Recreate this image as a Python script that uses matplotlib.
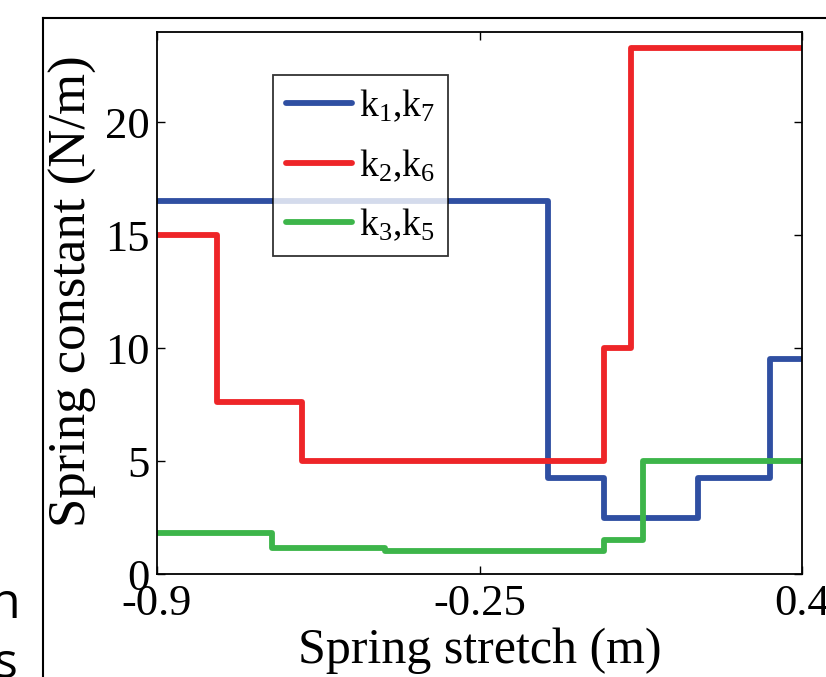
import matplotlib
matplotlib.use("Agg")
import matplotlib.pyplot as plt
from matplotlib.lines import Line2D

plt.rcParams['font.family'] = 'Liberation Serif'
plt.rcParams['mathtext.fontset'] = 'custom'
plt.rcParams['mathtext.rm'] = 'Liberation Serif'
plt.rcParams['mathtext.it'] = 'Liberation Serif'

# step data (x = start of each level, last value held to 0.4)
x_k17 = [-0.9, -0.111, 0.0, 0.19, 0.335, 0.4]
y_k17 = [16.5, 4.25, 2.5, 4.25, 9.5, 9.5]

x_k26 = [-0.9, -0.78, -0.608, 0.0, 0.056, 0.4]
y_k26 = [15.0, 7.6, 5.0, 10.0, 23.3, 23.3]

x_k35 = [-0.9, -0.669, -0.44, 0.0, 0.079, 0.4]
y_k35 = [1.8, 1.15, 1.03, 1.5, 5.0, 5.0]

labels = [r'k$_1$,k$_7$', r'k$_2$,k$_6$', r'k$_3$,k$_5$']
colors = ['#2f4fa2', '#ee2528', '#3db54a']

xticks = [-0.9, -0.25, 0.4]
xticklabels = ['-0.9', '-0.25', '0.4']
yticks = [0, 5, 10, 15, 20]

fig = plt.figure(figsize=(8.26, 6.77), dpi=100)
ax = fig.add_axes([157/826, 1 - 574/677, 645/826, 542/677])

for xs, ys, c, lab in zip([x_k17, x_k26, x_k35], [y_k17, y_k26, y_k35], colors, labels):
    ax.step(xs, ys, where='post', color=c, lw=4.2, label=lab,
            solid_joinstyle='round', solid_capstyle='round')

ax.set_xlim(-0.9, 0.4)
ax.set_ylim(0, 24)
ax.set_xticks(xticks)
ax.set_xticklabels(xticklabels)
ax.set_yticks(yticks)
ax.tick_params(direction='in', length=6, width=1, labelsize=32,
               top=True, right=True)
ax.tick_params(axis='x', pad=7)
ax.tick_params(axis='y', pad=5)
for s in ax.spines.values():
    s.set_linewidth(1.3)

ax.set_xlabel('Spring stretch (m)', fontsize=36, labelpad=3)
ax.set_ylabel('Spring constant (N/m)', fontsize=38)
ax.yaxis.set_label_coords(-0.093, 0.522)

leg = ax.legend(loc='upper left', bbox_to_anchor=(0.18, 0.921), fontsize=27,
                frameon=True, fancybox=False, edgecolor='black',
                handlelength=1.75, handletextpad=0.2, borderpad=0.35,
                labelspacing=0.6, borderaxespad=0)
leg.get_frame().set_linewidth(1.3)

# slide frame around the chart
fig.add_artist(Line2D([43/826, 1], [1 - 18/677, 1 - 18/677], color='black', lw=1.5))
fig.add_artist(Line2D([43/826, 43/826], [0, 1 - 18/677], color='black', lw=1.5))

# cut-off slide text on the left
fig.text(-0.012, 1 - 605/677, 'n', fontsize=36, family='Open Sans', va='center', ha='left')
fig.text(-0.008, 1 - 665/677, 's', fontsize=36, family='Open Sans', va='center', ha='left')

fig.savefig('out.png', dpi=100)
